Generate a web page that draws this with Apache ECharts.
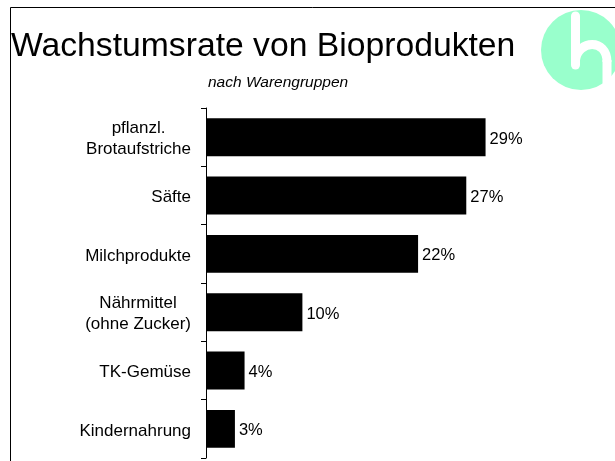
<!DOCTYPE html>
<html>
<head>
<meta charset="utf-8">
<script src="https://cdn.jsdelivr.net/npm/echarts@6/dist/echarts.min.js"></script>
<style>
  html, body { margin: 0; padding: 0; background: #fff; }
  #chart { width: 615px; height: 461px; }
</style>
</head>
<body>
<div id="chart"></div>
<script>
  // Warengruppen, top to bottom
  const categories = ['pflanzl.\nBrotaufstriche', 'Säfte', 'Milchprodukte', 'Nährmittel\n(ohne Zucker)', 'TK-Gemüse', 'Kindernahrung'];
  // Wachstumsrate in %
  const rates = [29, 27, 22, 10, 4, 3];

  const font = '"Liberation Sans", Arial, sans-serif';
  const chart = echarts.init(document.getElementById('chart'));

  const option = {
    backgroundColor: '#fff',
    animation: false,
    title: [{
      text: 'Wachstumsrate von Bioprodukten',
      left: 11,
      top: 30,
      padding: 0,
      textStyle: { fontFamily: font, fontSize: 33.7, fontWeight: 'normal', color: '#000' }
    }, {
      text: 'nach Warengruppen',
      left: 208,
      top: 75,
      padding: 0,
      textStyle: { fontFamily: font, fontSize: 15.5, fontStyle: 'italic', fontWeight: 'normal', color: '#000' }
    }],
    grid: {
      left: 206,
      top: 108,
      width: 385.6,
      height: 350,
      containLabel: false
    },
    xAxis: {
      type: 'value',
      min: 0,
      max: 40,
      show: false
    },
    yAxis: {
      type: 'category',
      inverse: true,
      data: categories,
      axisLine: { show: true, lineStyle: { color: '#000', width: 1 } },
      axisTick: { show: true, length: 5, inside: false, lineStyle: { color: '#000' } },
      axisLabel: {
        margin: 15,
        align: 'right',
        padding: [4, 0, 0, 0],
        formatter: v => v.split('\n').map(s => '{c|' + s + '}').join('\n'),
        rich: {
          c: { align: 'center', fontFamily: font, fontSize: 17, lineHeight: 21, color: '#000' }
        }
      },
      splitLine: { show: false }
    },
    series: [{
      type: 'bar',
      data: rates,
      barCategoryGap: '35%',
      itemStyle: { color: '#000' },
      label: {
        show: true,
        position: 'right',
        distance: 4,
        offset: [0, 2],
        formatter: '{c}%',
        fontFamily: font,
        fontSize: 16.5,
        color: '#000'
      }
    }],
    graphic: [
      // frame lines
      { type: 'line', shape: { x1: 10.5, y1: 7.5, x2: 615, y2: 7.5 }, style: { stroke: '#000', lineWidth: 1 } },
      { type: 'line', shape: { x1: 10.5, y1: 7.5, x2: 10.5, y2: 461 }, style: { stroke: '#000', lineWidth: 1 } },
      // logo
      { type: 'circle', shape: { cx: 581, cy: 50, r: 40 }, style: { fill: '#99ffcc' } },
      { type: 'line', shape: { x1: 575.5, y1: 16, x2: 575.5, y2: 65 }, style: { stroke: '#fff', lineWidth: 9, lineCap: 'round' } },
      { type: 'bezierCurve', shape: { x1: 575.5, y1: 60, cpx1: 578, cpy1: 40, cpx2: 607, cpy2: 38, x2: 607, y2: 62 }, style: { stroke: '#fff', fill: null, lineWidth: 9 } },
      { type: 'line', shape: { x1: 607, y1: 60, x2: 607, y2: 92 }, style: { stroke: '#fff', lineWidth: 9 } }
    ]
  };

  chart.setOption(option);
</script>
</body>
</html>
